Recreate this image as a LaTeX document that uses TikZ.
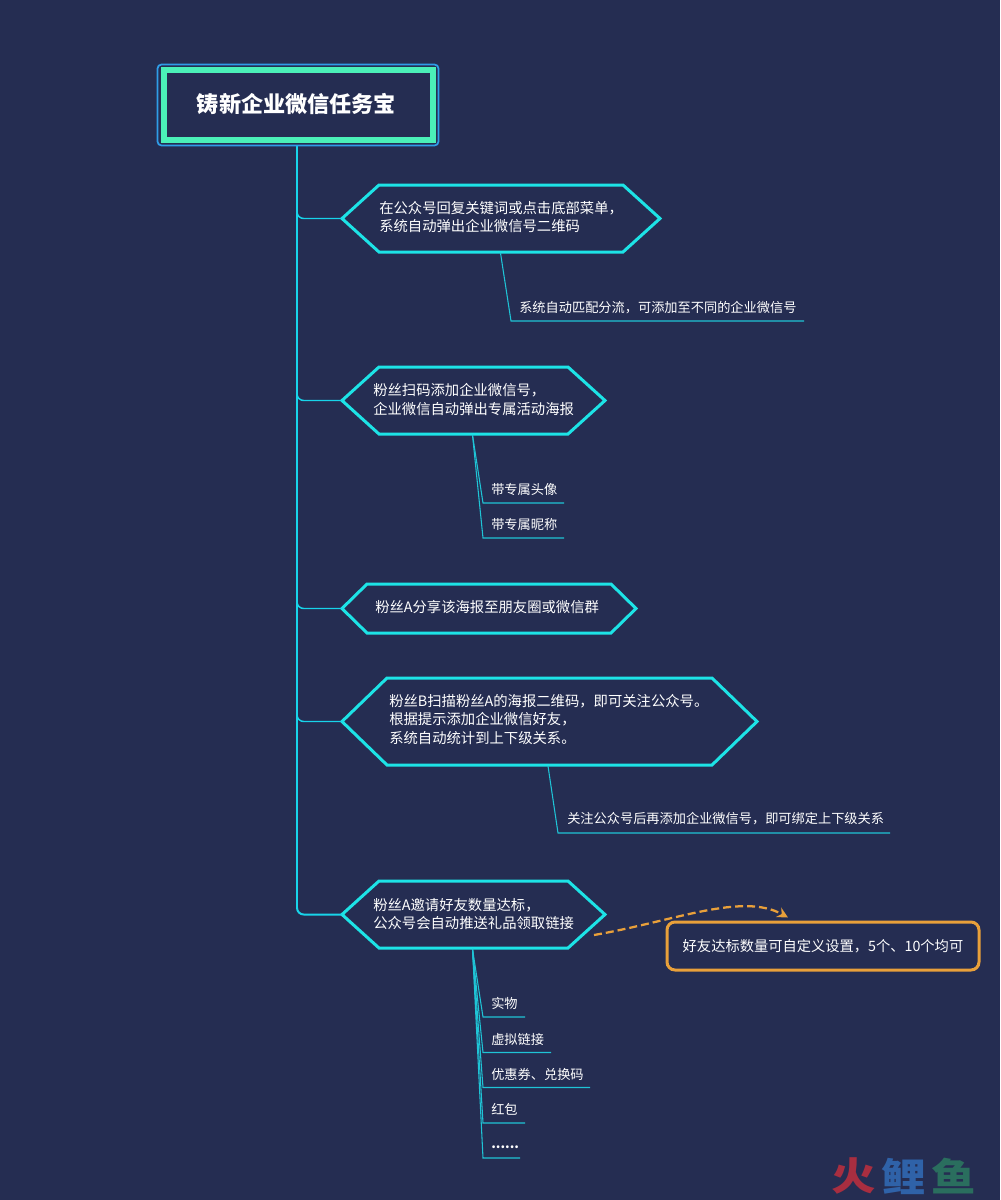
\documentclass[tikz,border=0pt]{standalone}
\usepackage{fontspec}
\setmainfont{Noto Sans CJK SC}
\usetikzlibrary{arrows.meta,calc}
\definecolor{bg}{HTML}{252D52}
\definecolor{cy}{HTML}{1DE3E6}
\definecolor{spine}{HTML}{18D4EA}
\definecolor{thin}{HTML}{1FC4D6}
\definecolor{grn}{HTML}{4BF0B8}
\definecolor{blu}{HTML}{2F9DE8}
\definecolor{org}{HTML}{E9A03A}
\definecolor{wmr}{HTML}{A82E40}
\definecolor{wmb}{HTML}{2F62A8}
\definecolor{wmg}{HTML}{2A6E5E}
\tikzset{
  x=0.75pt,y=-0.75pt,
  hexline/.style={draw=cy,line width=2.25pt,line join=miter},
  main/.style={text=white,anchor=west,align=left,inner sep=0pt,font=\fontsize{10.75}{14}\selectfont},
  sub/.style={text=white,anchor=west,align=left,inner sep=0pt,font=\fontsize{9.9}{12}\selectfont},
  branch/.style={draw=spine,line width=1.1pt,rounded corners=5pt},
  leaf/.style={draw=thin,line width=0.8pt},
  wm/.style={inner sep=0pt,font=\fontsize{29}{30}\bfseries\selectfont,xscale=1.15,transform shape},
}
% name, left, right, top, bottom, inset
\newcommand{\hexshape}[6]{%
  \coordinate (#1-w) at (#2,{(#4+#5)/2});
  \coordinate (#1-e) at (#3,{(#4+#5)/2});
  \draw[hexline] (#1-w) -- (#2+#6,#4) -- (#3-#6,#4) -- (#1-e) -- (#3-#6,#5) -- (#2+#6,#5) -- cycle;
}
\begin{document}
\begin{tikzpicture}
\useasboundingbox (0,0) rectangle (1000,1200);
\fill[bg] (0,0) rectangle (1000,1200);

% spine and branches
\coordinate (spinetop) at (297,145);
\coordinate (spineend) at (297,908);
\hexshape{h1}{342}{660}{185}{252}{37}
\hexshape{h2}{342}{605}{367}{434}{37}
\hexshape{h3}{342}{636}{584}{633}{25}
\hexshape{h4}{342}{757}{678}{765}{45}
\hexshape{h5}{342}{605}{881}{948}{37}
\draw[draw=spine,line width=2.2pt] (spinetop) -- (spineend);
\draw[branch] (297,205) |- (h1-w);
\draw[branch] (297,387) |- (h2-w);
\draw[branch] (297,595) |- (h3-w);
\draw[branch] (297,708) |- (h4-w);
\draw[branch,line width=1.5pt] (spineend) |- (h5-w);

% title
\draw[blu,line width=1.3pt,rounded corners=3pt] (157.5,64.5) rectangle (438.5,145.5);
\draw[grn,line width=4pt] (164,70) rectangle (433,140);
\node[text=white,font=\fontsize{16.6}{20}\bfseries\selectfont,inner sep=0pt] (title) at (296.5,104) {铸新企业微信任务宝};

% hexagon texts
\node[main] (t1) at (379,217) {在公众号回复关键词或点击底部菜单，\\系统自动弹出企业微信号二维码};
\node[main] (t2) at (373,399.5) {粉丝扫码添加企业微信号，\\企业微信自动弹出专属活动海报};
\node[main] (t3) at (375,607.5) {粉丝A分享该海报至朋友圈或微信群};
\node[main] (t4) at (389,719.5) {粉丝B扫描粉丝A的海报二维码，即可关注公众号。\\根据提示添加企业微信好友，\\系统自动统计到上下级关系。};
\node[main] (t5) at (373,914) {粉丝A邀请好友数量达标，\\公众号会自动推送礼品领取链接};

% leaves
\coordinate (a1) at (500.5,253);
\draw[leaf] (a1) -- (511,321) -- (804,321);
\node[sub] (s1) at (519,307.5) {系统自动匹配分流，可添加至不同的企业微信号};

\coordinate (a2) at (472.5,435);
\draw[leaf] (a2) -- (483,503) -- (564,503);
\draw[leaf] (a2) -- (483,538) -- (564,538);
\node[sub] (s2) at (491,489) {带专属头像};
\node[sub] (s3) at (491,524.5) {带专属昵称};

\coordinate (a4) at (548,766);
\draw[leaf] (a4) -- (558,833) -- (890,833);
\node[sub] (s4) at (567,819) {关注公众号后再添加企业微信号，即可绑定上下级关系};

\coordinate (a5) at (472.5,949);
\draw[leaf] (a5) -- (483,1017) -- (525,1017);
\draw[leaf] (a5) -- (483,1052.5) -- (551,1052.5);
\draw[leaf] (a5) -- (483,1087.5) -- (590,1087.5);
\draw[leaf] (a5) -- (483,1123) -- (525,1123);
\draw[leaf] (a5) -- (483,1158) -- (520,1158);
\node[sub] (l1) at (491,1003.5) {实物};
\node[sub] (l2) at (491,1039) {虚拟链接};
\node[sub] (l3) at (491,1074) {优惠券、兑换码};
\node[sub] (l4) at (491,1109.5) {红包};
\node[sub,font=\fontsize{9.9}{12}\bfseries\selectfont] (l5) at (491,1147) {......};

% callout
\node[draw=org,line width=2.25pt,fill=bg,rounded corners=6pt,minimum width=234pt,minimum height=36pt,inner sep=0pt,text=white,font=\fontsize{10.7}{14}\selectfont] (call) at (823,946) {好友达标数量可自定义设置，5个、10个均可};
\coordinate (cstart) at (594,935);
\coordinate (cend) at (788,917.5);
\draw[org,line width=1.7pt,dash pattern=on 6pt off 3pt,-{Stealth[length=8pt,width=8pt]}] (cstart) .. controls (675,921) and (742,892) .. (cend);

% watermark
\node[wm,text=wmr] (w1) at (854,1176) {火};
\node[wm,text=wmb] (w2) at (904,1176) {鲤};
\node[wm,text=wmg] (w3) at (954,1176) {鱼};
\end{tikzpicture}
\end{document}
